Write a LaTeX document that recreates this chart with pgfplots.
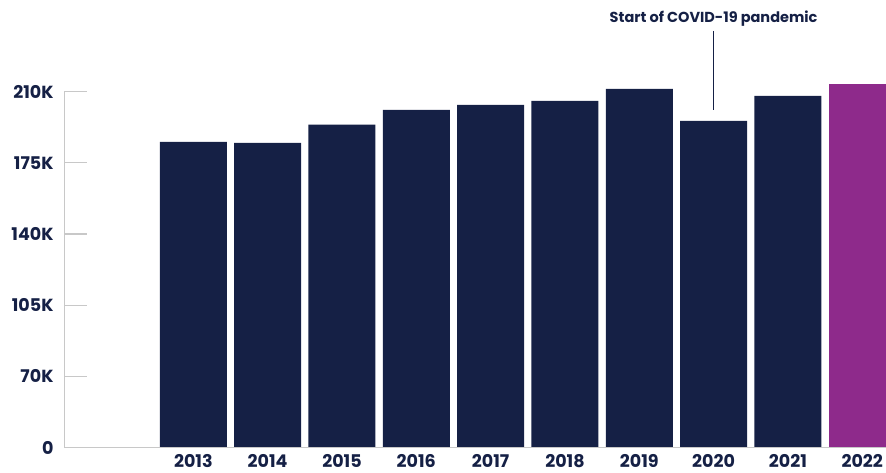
\documentclass[border=0pt]{standalone}
\usepackage{pgfplots}
\pgfplotsset{compat=1.18}
\usepackage{fontspec}
\setmainfont{Poppins}
\definecolor{navy}{HTML}{152045}
\definecolor{purp}{HTML}{8E2A8B}
\definecolor{axgray}{HTML}{C8C8C8}
\begin{document}
\begin{tikzpicture}
\begin{axis}[
  at={(64pt,25.3pt)}, anchor=south west,
  scale only axis, width=822pt, height=447.7pt,
  xmin=-1.74, xmax=9.32,
  ymin=35000, ymax=255000,
  scaled y ticks=false, scaled x ticks=false,
  axis line style={draw=none},
  xtick pos=left, ytick pos=left,
  ytick={35000,70000,105000,140000,175000,210000},
  yticklabels={0,70K,105K,140K,175K,210K},
  xtick={0,1,2,3,4,5,6,7,8,9},
  xticklabels={2013,2014,2015,2016,2017,2018,2019,2020,2021,2022},
  major tick length=0pt,
  tick style={draw=none},
  tick label style={font=\fontsize{17.5}{18}\selectfont\bfseries, text=navy},
  yticklabel style={xshift=-7pt},
  xticklabel style={yshift=-3pt},
  ybar, bar width=67pt, bar shift=0pt,
  /pgf/number format/assume math mode=true,
  clip=true,
]
\addplot[fill=navy, draw=none] coordinates {
 (0,185300) (1,184800) (2,193700) (3,201000) (4,203500)
 (5,205400) (6,211300) (7,195600) (8,207900)};
\addplot[fill=purp, draw=none] coordinates {(9,213800)};
\draw[axgray, line width=1.2pt] (axis cs:-1.74,210000) -- (axis cs:-1.74,35000) -- (axis cs:9.32,35000);
\pgfplotsinvokeforeach{70000,105000,140000,175000,210000}{
  \draw[axgray, line width=1.2pt] (axis cs:-1.74,#1) -- ++(23pt,0pt);
}
\draw[navy, line width=1pt] (axis cs:7,239800) -- (axis cs:7,201000);
\node[font=\fontsize{14.5}{15}\selectfont\bfseries, text=navy] at (axis cs:7,245900) {Start of COVID-19 pandemic};
\end{axis}
\pgfresetboundingbox
\path (0,0) rectangle (886pt,473pt);
\end{tikzpicture}
\end{document}
